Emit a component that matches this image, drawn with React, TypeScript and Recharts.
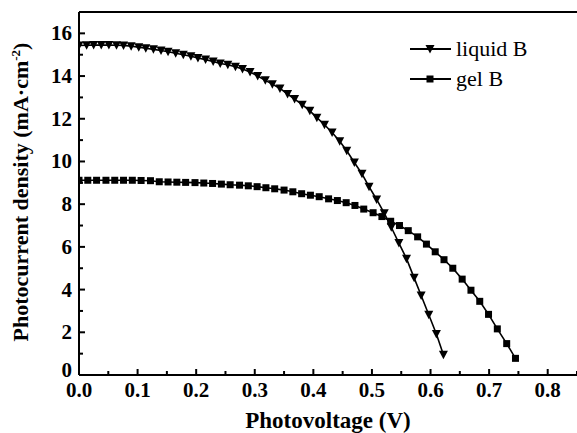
import { LineChart, Line, XAxis, YAxis, ReferenceLine } from 'recharts';

// liquid B: photovoltage (V) and photocurrent density (mA·cm-2)
const liquidV = [
  0.000, 0.013, 0.025, 0.038, 0.051, 0.064, 0.076, 0.089, 0.102, 0.114,
  0.127, 0.140, 0.152, 0.165, 0.178, 0.191, 0.203, 0.216, 0.229, 0.241,
  0.254, 0.267, 0.279, 0.292, 0.305, 0.318, 0.330, 0.343, 0.356, 0.368,
  0.381, 0.394, 0.406, 0.419, 0.432, 0.445, 0.457, 0.470, 0.483, 0.495,
  0.508, 0.521, 0.533, 0.546, 0.559, 0.572, 0.584, 0.597, 0.610, 0.622,
];
const liquidJ = [
  15.43, 15.44, 15.45, 15.45, 15.45, 15.44, 15.43, 15.40, 15.35, 15.30,
  15.25, 15.20, 15.14, 15.07, 15.00, 14.93, 14.85, 14.77, 14.68, 14.59,
  14.53, 14.44, 14.33, 14.19, 14.00, 13.80, 13.62, 13.42, 13.16, 12.92,
  12.66, 12.37, 12.05, 11.72, 11.36, 10.95, 10.50, 9.95, 9.42, 8.82,
  8.22, 7.58, 6.92, 6.18, 5.45, 4.55, 3.72, 2.82, 1.92, 0.95,
];

// gel B
const gelV = [
  0.000, 0.015, 0.030, 0.046, 0.061, 0.076, 0.091, 0.106, 0.122, 0.137,
  0.152, 0.167, 0.182, 0.198, 0.213, 0.228, 0.243, 0.258, 0.274, 0.289,
  0.304, 0.319, 0.334, 0.350, 0.365, 0.380, 0.395, 0.410, 0.426, 0.441,
  0.456, 0.471, 0.486, 0.502, 0.517, 0.532, 0.547, 0.562, 0.578, 0.593,
  0.608, 0.623, 0.638, 0.654, 0.669, 0.684, 0.699, 0.714, 0.730, 0.745,
];
const gelJ = [
  9.12, 9.12, 9.12, 9.12, 9.12, 9.12, 9.12, 9.11, 9.10, 9.05,
  9.04, 9.03, 9.02, 9.01, 8.99, 8.97, 8.94, 8.91, 8.89, 8.86,
  8.82, 8.77, 8.72, 8.66, 8.58, 8.49, 8.42, 8.35, 8.25, 8.17,
  8.07, 7.94, 7.77, 7.60, 7.42, 7.20, 7.00, 6.76, 6.47, 6.13,
  5.77, 5.40, 5.00, 4.49, 3.97, 3.45, 2.84, 2.16, 1.47, 0.78,
];

const xTicks = [0, 0.05, 0.1, 0.15, 0.2, 0.25, 0.3, 0.35, 0.4, 0.45, 0.5, 0.55, 0.6, 0.65, 0.7, 0.75, 0.8, 0.85];
const yTicks = [0, 1, 2, 3, 4, 5, 6, 7, 8, 9, 10, 11, 12, 13, 14, 15, 16, 17];

const liquidData = liquidV.map((v, i) => ({ v, j: liquidJ[i] }));
const gelData = gelV.map((v, i) => ({ v, j: gelJ[i] }));

const FONT = "'Times New Roman', Times, 'Liberation Serif', 'DejaVu Serif', serif";
const MARGIN = 4;

const isMajor = (val: number, step: number) => Math.abs(val / step - Math.round(val / step)) < 1e-6;

const XTick = (props: any) => {
  const { x, y, payload } = props;
  const axisY = y - MARGIN;
  const major = isMajor(payload.value, 0.1);
  return (
    <g>
      <line x1={x} x2={x} y1={axisY} y2={axisY - (major ? 6 : 4)} stroke="#000" strokeWidth={2} />
      {major && payload.value < 0.84 && (
        <text x={x} y={axisY + 22} textAnchor="middle" fontFamily={FONT} fontWeight="bold" fontSize={21} fill="#000">
          {payload.value.toFixed(1)}
        </text>
      )}
    </g>
  );
};

const YTick = (props: any) => {
  const { x, y, payload } = props;
  const axisX = x + MARGIN;
  const major = payload.value % 2 === 0;
  if (payload.value > 16) return <g />;
  return (
    <g>
      <line x1={axisX} x2={axisX + (major ? 6 : 4)} y1={y} y2={y} stroke="#000" strokeWidth={2} />
      {major && (
        <text
          x={axisX - 7}
          y={payload.value === 0 ? y + 2 : y + 7}
          textAnchor="end"
          fontFamily={FONT}
          fontWeight="bold"
          fontSize={21}
          fill="#000"
        >
          {payload.value}
        </text>
      )}
    </g>
  );
};

const TriDot = (props: any) => {
  const { cx, cy, index } = props;
  if (cx == null || cy == null) return <g key={index} />;
  return <path key={index} d={`M${cx - 4.5},${cy - 4} L${cx + 4.5},${cy - 4} L${cx},${cy + 4.5} Z`} fill="#000" />;
};

const SqDot = (props: any) => {
  const { cx, cy, index } = props;
  if (cx == null || cy == null) return <g key={index} />;
  return <rect key={index} x={cx - 3.5} y={cy - 3.5} width={7} height={7} fill="#000" />;
};

const YLabel = () => (
  <text
    transform="translate(28,192) rotate(-90)"
    textAnchor="middle"
    fontFamily={FONT}
    fontWeight="bold"
    fontSize={22}
    fill="#000"
  >
    Photocurrent density (mA·cm
    <tspan dy={-8} fontSize={13}>-2</tspan>
    <tspan dy={8}>)</tspan>
  </text>
);

const XLabel = () => (
  <text x={328} y={428} textAnchor="middle" fontFamily={FONT} fontWeight="bold" fontSize={23} fill="#000">
    Photovoltage (V)
  </text>
);

export default function App() {
  return (
    <div style={{ position: 'absolute', left: 0, top: 0, width: 577, height: 433, background: '#fff', fontFamily: FONT }}>
      <LineChart width={577} height={433} margin={{ top: 12, right: 0, bottom: 0, left: 0 }}>
        <XAxis
          dataKey="v"
          type="number"
          domain={[0, 0.85]}
          ticks={xTicks}
          interval={0}
          tickSize={0}
          tickMargin={MARGIN}
          tick={<XTick />}
          axisLine={{ stroke: '#000', strokeWidth: 2 }}
          height={58}
          allowDataOverflow
          label={{ content: () => <XLabel /> }}
        />
        <YAxis
          dataKey="j"
          type="number"
          domain={[0, 17]}
          ticks={yTicks}
          tickSize={0}
          tickMargin={MARGIN}
          tick={<YTick />}
          axisLine={{ stroke: '#000', strokeWidth: 2 }}
          width={79}
          allowDataOverflow
          interval={0}
          label={{ content: () => <YLabel /> }}
        />
        <ReferenceLine y={17} stroke="#000" strokeWidth={2} />
        <Line
          data={liquidData}
          dataKey="j"
          type="linear"
          stroke="#000"
          strokeWidth={1.6}
          dot={<TriDot />}
          isAnimationActive={false}
          name="liquid B"
        />
        <Line
          data={gelData}
          dataKey="j"
          type="linear"
          stroke="#000"
          strokeWidth={1.6}
          dot={<SqDot />}
          isAnimationActive={false}
          name="gel B"
        />
        <g>
          <line x1={410} x2={451} y1={49} y2={49} stroke="#000" strokeWidth={2} />
          <path d="M425.5,45 L434.5,45 L430,53.5 Z" fill="#000" />
          <text x={456} y={56} fontFamily={FONT} fontSize={22} fill="#000">liquid B</text>
          <line x1={410} x2={451} y1={79} y2={79} stroke="#000" strokeWidth={2} />
          <rect x={426.5} y={75.5} width={7} height={7} fill="#000" />
          <text x={456} y={86} fontFamily={FONT} fontSize={22} fill="#000">gel B</text>
        </g>
      </LineChart>
    </div>
  );
}
